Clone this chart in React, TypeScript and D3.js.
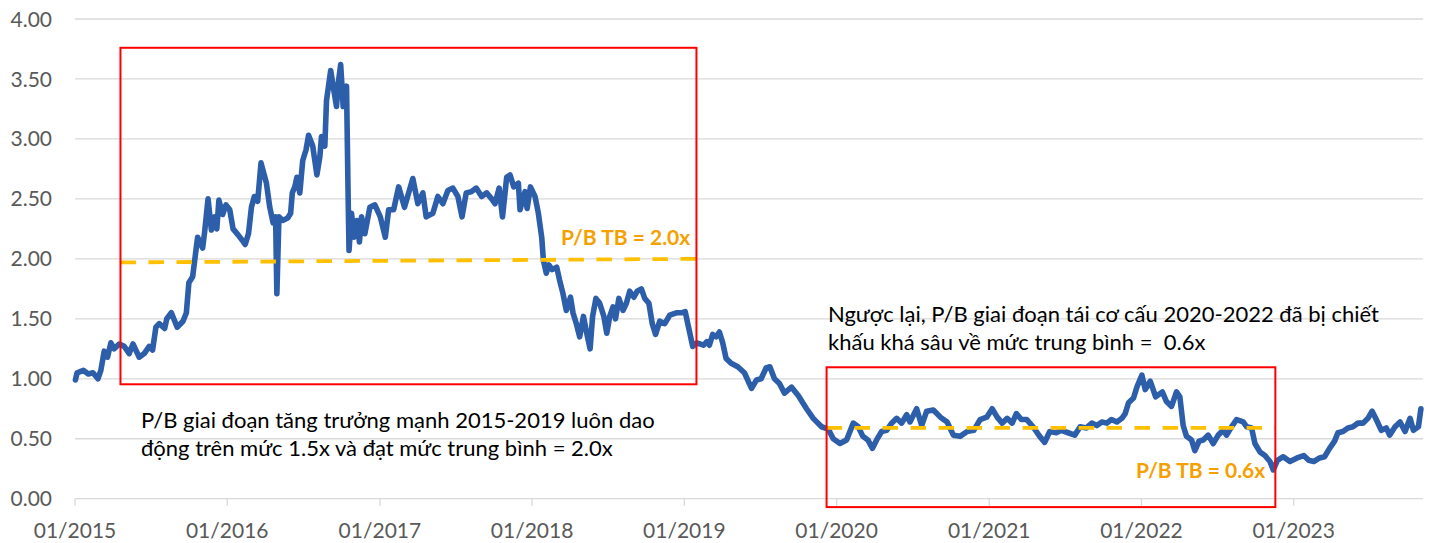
import React, { useEffect, useRef } from 'react';
import * as d3 from 'd3';

const tradeDates = [
  '2015-01-02', '2015-01-06', '2015-01-21', '2015-02-02', '2015-02-13', '2015-02-25', '2015-03-04', '2015-03-12',
  '2015-03-20', '2015-03-28', '2015-04-05', '2015-04-17', '2015-04-29', '2015-05-11', '2015-05-20', '2015-06-04',
  '2015-06-16', '2015-06-28', '2015-07-06', '2015-07-14', '2015-07-22', '2015-08-04', '2015-08-09', '2015-08-20',
  '2015-09-03', '2015-09-17', '2015-09-25', '2015-10-01', '2015-10-10', '2015-10-18', '2015-10-22', '2015-11-03',
  '2015-11-08', '2015-11-16', '2015-11-24', '2015-12-02', '2015-12-07', '2015-12-12', '2015-12-21', '2015-12-29',
  '2016-01-07', '2016-01-15', '2016-01-27', '2016-02-05', '2016-02-13', '2016-02-21', '2016-02-28', '2016-03-06',
  '2016-03-14', '2016-03-22', '2016-04-04', '2016-04-12', '2016-04-20', '2016-04-26', '2016-04-29', '2016-05-04',
  '2016-05-13', '2016-05-25', '2016-06-01', '2016-06-05', '2016-06-11', '2016-06-16', '2016-06-23', '2016-06-30',
  '2016-07-08', '2016-07-14', '2016-07-24', '2016-08-03', '2016-08-10', '2016-08-14', '2016-08-22', '2016-08-26',
  '2016-09-05', '2016-09-11', '2016-09-19', '2016-09-23', '2016-09-29', '2016-10-05', '2016-10-13', '2016-10-17',
  '2016-10-19', '2016-10-25', '2016-10-31', '2016-11-07', '2016-11-13', '2016-11-18', '2016-11-26', '2016-12-08',
  '2016-12-20', '2017-01-02', '2017-01-14', '2017-01-22', '2017-02-03', '2017-02-15', '2017-03-01', '2017-03-21',
  '2017-04-02', '2017-04-14', '2017-04-22', '2017-05-08', '2017-05-20', '2017-06-01', '2017-06-13', '2017-06-25',
  '2017-07-07', '2017-07-17', '2017-07-27', '2017-08-08', '2017-08-20', '2017-09-02', '2017-09-14', '2017-09-26',
  '2017-10-04', '2017-10-14', '2017-10-22', '2017-11-01', '2017-11-09', '2017-11-18', '2017-11-29', '2017-12-03',
  '2017-12-15', '2017-12-20', '2017-12-28', '2018-01-08', '2018-01-16', '2018-01-24', '2018-01-28', '2018-02-04',
  '2018-02-10', '2018-02-18', '2018-03-01', '2018-03-08', '2018-03-16', '2018-03-24', '2018-04-03', '2018-04-09',
  '2018-04-17', '2018-04-25', '2018-05-04', '2018-05-12', '2018-05-20', '2018-05-26', '2018-06-03', '2018-06-12',
  '2018-06-22', '2018-06-29', '2018-07-06', '2018-07-14', '2018-07-20', '2018-07-28', '2018-08-07', '2018-08-15',
  '2018-08-23', '2018-09-02', '2018-09-10', '2018-09-20', '2018-09-28', '2018-10-08', '2018-10-16', '2018-10-24',
  '2018-11-03', '2018-11-15', '2018-11-27', '2018-12-13', '2018-12-25', '2019-01-03', '2019-01-11', '2019-01-21',
  '2019-01-31', '2019-02-16', '2019-02-24', '2019-03-02', '2019-03-10', '2019-03-18', '2019-03-26', '2019-04-03',
  '2019-04-11', '2019-04-23', '2019-05-09', '2019-05-25', '2019-06-11', '2019-06-23', '2019-07-04', '2019-07-16',
  '2019-07-25', '2019-08-05', '2019-08-17', '2019-08-29', '2019-09-15', '2019-10-01', '2019-10-21', '2019-11-06',
  '2019-11-26', '2019-12-12', '2019-12-24', '2020-01-09', '2020-01-25', '2020-02-10', '2020-02-22', '2020-03-04',
  '2020-03-16', '2020-03-27', '2020-04-06', '2020-04-18', '2020-04-30', '2020-05-12', '2020-05-24', '2020-06-05',
  '2020-06-17', '2020-06-25', '2020-07-11', '2020-07-23', '2020-08-04', '2020-08-20', '2020-09-06', '2020-09-22',
  '2020-10-07', '2020-10-23', '2020-11-09', '2020-11-25', '2020-12-10', '2020-12-26', '2021-01-08', '2021-01-20',
  '2021-02-01', '2021-02-13', '2021-02-25', '2021-03-07', '2021-03-19', '2021-04-01', '2021-04-16', '2021-05-02',
  '2021-05-14', '2021-05-26', '2021-06-11', '2021-06-23', '2021-07-09', '2021-07-25', '2021-08-07', '2021-08-22',
  '2021-09-04', '2021-09-16', '2021-09-28', '2021-10-10', '2021-10-21', '2021-11-03', '2021-11-15', '2021-11-23',
  '2021-12-01', '2021-12-13', '2021-12-21', '2022-01-02', '2022-01-10', '2022-01-22', '2022-02-04', '2022-02-20',
  '2022-03-02', '2022-03-14', '2022-03-26', '2022-04-03', '2022-04-11', '2022-04-19', '2022-05-01', '2022-05-09',
  '2022-05-19', '2022-05-29', '2022-06-10', '2022-06-22', '2022-07-04', '2022-07-16', '2022-07-24', '2022-08-05',
  '2022-08-17', '2022-09-02', '2022-09-10', '2022-09-22', '2022-09-30', '2022-10-12', '2022-10-24', '2022-11-05',
  '2022-11-13', '2022-11-23', '2022-12-07', '2022-12-23', '2023-01-09', '2023-01-25', '2023-02-06', '2023-02-18',
  '2023-03-04', '2023-03-16', '2023-03-28', '2023-04-09', '2023-04-17', '2023-04-29', '2023-05-11', '2023-05-23',
  '2023-06-04', '2023-06-16', '2023-06-28', '2023-07-08', '2023-07-18', '2023-07-30', '2023-08-11', '2023-08-19',
  '2023-09-01', '2023-09-13', '2023-09-25', '2023-10-07', '2023-10-15', '2023-10-27', '2023-11-02',
];

const pbRatio = [
  0.99, 1.05, 1.07, 1.04, 1.05, 1.00, 1.07, 1.23,
  1.18, 1.30, 1.25, 1.29, 1.27, 1.21, 1.29, 1.18,
  1.21, 1.27, 1.24, 1.43, 1.46, 1.42, 1.50, 1.55,
  1.43, 1.48, 1.55, 1.80, 1.85, 2.07, 2.18, 2.09,
  2.23, 2.50, 2.24, 2.35, 2.25, 2.49, 2.37, 2.45,
  2.41, 2.25, 2.20, 2.16, 2.12, 2.21, 2.43, 2.52,
  2.48, 2.80, 2.63, 2.43, 2.30, 2.35, 1.71, 2.35,
  2.32, 2.34, 2.38, 2.55, 2.60, 2.68, 2.55, 2.82,
  2.91, 3.03, 2.94, 2.70, 2.85, 3.02, 2.94, 3.32,
  3.57, 3.44, 3.27, 3.46, 3.62, 3.27, 3.44, 2.49,
  2.07, 2.38, 2.18, 2.32, 2.14, 2.35, 2.21, 2.43,
  2.45, 2.35, 2.18, 2.41, 2.41, 2.60, 2.43, 2.67,
  2.46, 2.55, 2.35, 2.38, 2.52, 2.46, 2.57, 2.59,
  2.52, 2.35, 2.55, 2.56, 2.59, 2.52, 2.55, 2.50,
  2.46, 2.59, 2.35, 2.68, 2.70, 2.60, 2.63, 2.41,
  2.56, 2.42, 2.60, 2.52, 2.38, 2.18, 1.99, 1.88,
  1.95, 1.91, 1.93, 1.82, 1.71, 1.57, 1.68, 1.55,
  1.46, 1.35, 1.52, 1.38, 1.25, 1.52, 1.67, 1.63,
  1.52, 1.38, 1.52, 1.60, 1.50, 1.67, 1.57, 1.63,
  1.73, 1.68, 1.73, 1.75, 1.67, 1.63, 1.46, 1.37,
  1.48, 1.46, 1.53, 1.55, 1.55, 1.56, 1.43, 1.27,
  1.30, 1.28, 1.31, 1.28, 1.37, 1.35, 1.39, 1.30,
  1.17, 1.13, 1.10, 1.05, 0.92, 0.99, 1.00, 1.09,
  1.10, 1.00, 0.96, 0.88, 0.93, 0.86, 0.75, 0.67,
  0.60, 0.58, 0.50, 0.46, 0.49, 0.63, 0.60, 0.52,
  0.49, 0.42, 0.49, 0.56, 0.57, 0.63, 0.67, 0.63,
  0.70, 0.64, 0.75, 0.61, 0.73, 0.74, 0.68, 0.64,
  0.53, 0.52, 0.56, 0.57, 0.66, 0.68, 0.75, 0.68,
  0.63, 0.67, 0.63, 0.71, 0.66, 0.66, 0.60, 0.52,
  0.47, 0.56, 0.55, 0.57, 0.55, 0.53, 0.60, 0.59,
  0.63, 0.61, 0.64, 0.63, 0.66, 0.64, 0.67, 0.71,
  0.80, 0.84, 0.93, 1.03, 0.91, 0.98, 0.85, 0.89,
  0.81, 0.77, 0.89, 0.85, 0.61, 0.52, 0.49, 0.40,
  0.48, 0.49, 0.53, 0.46, 0.53, 0.57, 0.53, 0.60,
  0.66, 0.64, 0.60, 0.59, 0.46, 0.39, 0.36, 0.31,
  0.24, 0.32, 0.35, 0.31, 0.34, 0.36, 0.32, 0.31,
  0.34, 0.35, 0.42, 0.48, 0.55, 0.56, 0.59, 0.60,
  0.63, 0.63, 0.67, 0.73, 0.66, 0.57, 0.59, 0.53,
  0.60, 0.64, 0.56, 0.67, 0.57, 0.60, 0.75,
];

const yTicks = [0, 0.5, 1, 1.5, 2, 2.5, 3, 3.5, 4];
const xTickDates = ['2015-01-01', '2016-01-01', '2017-01-01', '2018-01-01', '2019-01-01', '2020-01-01', '2021-01-01', '2022-01-01', '2023-01-01'];
const xDomain = ['2015-01-01', '2023-11-07'];

// average P/B lines for the two periods
const avgHighDates = ['2015-04-20', '2019-01-30'];
const avgHighValues = [1.97, 2.0];
const avgLowDates = ['2019-12-08', '2022-11-18'];
const avgLowValues = [0.59, 0.59];

// highlight boxes (data coords)
const boxStart = ['2015-04-20', '2019-12-08'];
const boxEnd = ['2019-01-30', '2022-11-18'];
const boxTop = [3.76, 1.096];
const boxBottom = [0.954, -0.07];

const noteGrowth = ['P/B giai đoạn tăng trưởng mạnh 2015-2019 luôn dao', 'động trên mức 1.5x và đạt mức trung bình = 2.0x'];
const noteRestructure = ['Ngược lại, P/B giai đoạn tái cơ cấu 2020-2022 đã bị chiết', 'khấu khá sâu về mức trung bình =  0.6x'];
const avgLabels = ['P/B TB = 2.0x', 'P/B TB = 0.6x'];

const App = () => {
  const svgRef = useRef(null);

  useEffect(() => {
    const width = 1432;
    const height = 543;
    const margin = { top: 19, right: 9, bottom: 44.3, left: 75 };
    const font = 'Lato, "Open Sans", sans-serif';
    const parse = d3.timeParse('%Y-%m-%d');

    const svg = d3.select(svgRef.current)
      .attr('width', width)
      .attr('height', height);
    svg.selectAll('*').remove();

    const x = d3.scaleTime()
      .domain(xDomain.map(d => parse(d)))
      .range([margin.left, width - margin.right]);
    const y = d3.scaleLinear()
      .domain([0, 4])
      .range([height - margin.bottom, margin.top]);

    // gridlines
    svg.append('g')
      .selectAll('line')
      .data(yTicks)
      .enter()
      .append('line')
      .attr('x1', margin.left)
      .attr('x2', width - margin.right)
      .attr('y1', d => y(d))
      .attr('y2', d => y(d))
      .attr('stroke', '#d9d9d9')
      .attr('stroke-width', 1.3);

    // y labels
    svg.append('g')
      .selectAll('text')
      .data(yTicks)
      .enter()
      .append('text')
      .attr('x', 52)
      .attr('y', d => y(d))
      .attr('dy', '0.36em')
      .attr('text-anchor', 'end')
      .style('font-family', font)
      .style('font-size', '21px')
      .style('fill', '#595959')
      .text(d => d3.format('.2f')(d));

    // x ticks + labels
    const xt = svg.append('g')
      .selectAll('g')
      .data(xTickDates.map(d => parse(d)))
      .enter()
      .append('g');
    xt.append('line')
      .attr('x1', d => x(d))
      .attr('x2', d => x(d))
      .attr('y1', y(0))
      .attr('y2', y(0) + 7)
      .attr('stroke', '#d9d9d9')
      .attr('stroke-width', 1.3);
    xt.append('text')
      .attr('x', d => x(d))
      .attr('y', 538)
      .attr('text-anchor', 'middle')
      .style('font-family', font)
      .style('font-size', '21px')
      .style('fill', '#595959')
      .text(d => d3.timeFormat('%m/%Y')(d));

    // P/B series
    const series = tradeDates.map((d, i) => ({ date: parse(d), value: pbRatio[i] }));
    const line = d3.line()
      .x(d => x(d.date))
      .y(d => y(d.value));
    svg.append('path')
      .datum(series)
      .attr('d', line)
      .attr('fill', 'none')
      .attr('stroke', '#2d5ea9')
      .attr('stroke-width', 5.6)
      .attr('stroke-linejoin', 'round')
      .attr('stroke-linecap', 'round');

    // average dashed lines
    [[avgHighDates, avgHighValues], [avgLowDates, avgLowValues]].forEach(([ds, vs]) => {
      const pts = ds.map((d, i) => ({ date: parse(d), value: vs[i] }));
      svg.append('path')
        .datum(pts)
        .attr('d', line)
        .attr('fill', 'none')
        .attr('stroke', '#ffc000')
        .attr('stroke-width', 3.8)
        .attr('stroke-dasharray', '15.5 12.5');
    });

    // highlight boxes
    boxStart.forEach((d, i) => {
      const x0 = x(parse(d));
      const x1 = x(parse(boxEnd[i]));
      svg.append('rect')
        .attr('x', x0)
        .attr('y', y(boxTop[i]))
        .attr('width', x1 - x0)
        .attr('height', y(boxBottom[i]) - y(boxTop[i]))
        .attr('fill', 'none')
        .attr('stroke', '#ff0000')
        .attr('stroke-width', 2);
    });

    // notes
    const note = (lines, x0, y0) => {
      lines.forEach((t, i) => {
        svg.append('text')
          .attr('x', x0)
          .attr('y', y0 + i * 28)
          .style('font-family', font)
          .style('font-size', '22px')
          .style('fill', '#000')
          .style('white-space', 'pre')
          .text(t);
      });
    };
    note(noteGrowth, 141, 428);
    note(noteRestructure, 828, 322);

    const avgPos = [[561, 245], [1136, 478]];
    avgLabels.forEach((t, i) => {
      svg.append('text')
        .attr('x', avgPos[i][0])
        .attr('y', avgPos[i][1])
        .style('font-family', font)
        .style('font-size', '21px')
        .style('font-weight', '700')
        .style('fill', '#f5a000')
        .text(t);
    });
  }, []);

  return (
    <svg ref={svgRef} style={{ position: 'absolute', left: 0, top: 0, display: 'block', background: '#fff' }}></svg>
  );
};

export default App;
